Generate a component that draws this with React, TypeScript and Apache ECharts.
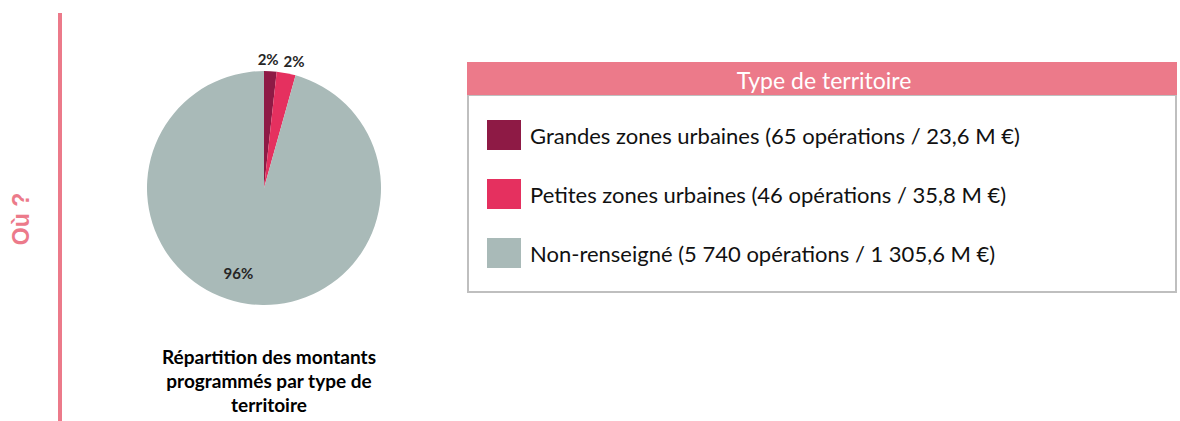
import React, { useEffect, useRef } from "react";
import * as echarts from "echarts";

const categories = ["Grandes zones urbaines", "Petites zones urbaines", "Non-renseigné"];
const operations = [65, 46, 5740];
const amounts = [23.6, 35.8, 1305.6];
const percentLabels = ["2%", "2%", "96%"];
const colors = ["#8E1A45", "#E5305F", "#A9BAB8"];
const legendTitle = "Type de territoire";
const captionLines = ["Répartition des montants", "programmés par type de", "territoire"];
const sideLabel = "Où ?";

function fmtInt(n: number): string {
  const s = String(Math.trunc(n));
  return s.replace(/\B(?=(\d{3})+(?!\d))/g, " ");
}
function fmtDec(n: number): string {
  const [i, d] = n.toFixed(1).split(".");
  return fmtInt(Number(i)) + "," + d;
}

// small nudges of the percentage labels, as placed in the original
const labelNudges: [number, number][] = [[-3, 2], [5, 2], [-13, -7]];

export default function App() {
  const ref = useRef<HTMLDivElement>(null);
  useEffect(() => {
    document.body.style.margin = "0";
    const chart = echarts.init(ref.current!, null, { renderer: "svg" });
    const pieData = categories.map((c, i) => ({
      name: c,
      value: amounts[i],
      itemStyle: { color: colors[i] },
    }));
    const pctLabel = {
      formatter: (p: any) => percentLabels[p.dataIndex],
      fontFamily: "Lato",
      fontWeight: "bold" as const,
      fontSize: 15,
      color: "#262626",
      position: "inside" as const,
    };
    const smallLabelData = categories.map((c, i) => ({
      name: c,
      value: amounts[i],
      label: { show: i < 2 },
    }));
    const bigLabelData = categories.map((c, i) => ({
      name: c,
      value: amounts[i],
      label: { show: i === 2 },
    }));
    const nudge = (p: any) => ({
      dx: labelNudges[p.dataIndex][0],
      dy: labelNudges[p.dataIndex][1],
      hideOverlap: false,
    });
    chart.setOption({
      animation: false,
      title: {
        text: captionLines.join("\n"),
        left: 264,
        top: 339,
        textAlign: "center",
        textStyle: {
          fontFamily: "Lato",
          fontWeight: "bold",
          fontSize: 19,
          lineHeight: 24,
          color: "#000",
        },
      },
      legend: {
        orient: "vertical",
        left: 482,
        top: 115,
        itemWidth: 34,
        itemHeight: 30,
        itemGap: 29,
        icon: "rect",
        selectedMode: false,
        data: categories,
        formatter: (name: string) => {
          const i = categories.indexOf(name);
          return `${name} (${fmtInt(operations[i])} opérations / ${fmtDec(amounts[i])} M €)`;
        },
        textStyle: {
          fontFamily: "Lato",
          fontSize: 22,
          color: "#111",
          padding: [0, 0, 0, 4],
        },
      },
      graphic: [
        {
          type: "rect",
          shape: { x: 58, y: 13, width: 4, height: 408 },
          style: { fill: "#EC7A8A" },
        },
        {
          type: "text",
          x: 21,
          y: 219,
          rotation: Math.PI / 2,
          style: {
            text: sideLabel,
            fill: "#EC7A8A",
            font: "bold 23px 'Liberation Sans'",
            align: "center",
            verticalAlign: "middle",
          },
        },
        {
          type: "rect",
          shape: { x: 468, y: 95, width: 708, height: 197 },
          style: { fill: "#fff", stroke: "#BFBFBF", lineWidth: 2 },
          z: -1,
        },
        {
          type: "rect",
          shape: { x: 467, y: 62, width: 710, height: 33 },
          style: { fill: "#EC7A8A" },
        },
        {
          type: "text",
          x: 824,
          y: 80,
          style: {
            text: legendTitle,
            fill: "#fff",
            font: "23px Lato",
            align: "center",
            verticalAlign: "middle",
          },
        },
      ],
      series: [
        {
          type: "pie",
          center: [264, 188],
          radius: [0, 117],
          startAngle: 90,
          clockwise: true,
          silent: true,
          label: { show: false },
          labelLine: { show: false },
          data: pieData,
        },
        {
          type: "pie",
          center: [264, 188],
          radius: [117, 140],
          startAngle: 90,
          clockwise: true,
          silent: true,
          avoidLabelOverlap: false,
          itemStyle: { color: "rgba(0,0,0,0)" },
          label: pctLabel,
          labelLine: { show: false },
          labelLayout: nudge,
          data: smallLabelData,
        },
        {
          type: "pie",
          center: [264, 188],
          radius: [62, 117],
          startAngle: 90,
          clockwise: true,
          silent: true,
          avoidLabelOverlap: false,
          itemStyle: { color: "rgba(0,0,0,0)" },
          label: pctLabel,
          labelLine: { show: false },
          labelLayout: nudge,
          data: bigLabelData,
        },
      ],
    });
    return () => chart.dispose();
  }, []);
  return <div ref={ref} style={{ width: 1180, height: 421 }} />;
}
